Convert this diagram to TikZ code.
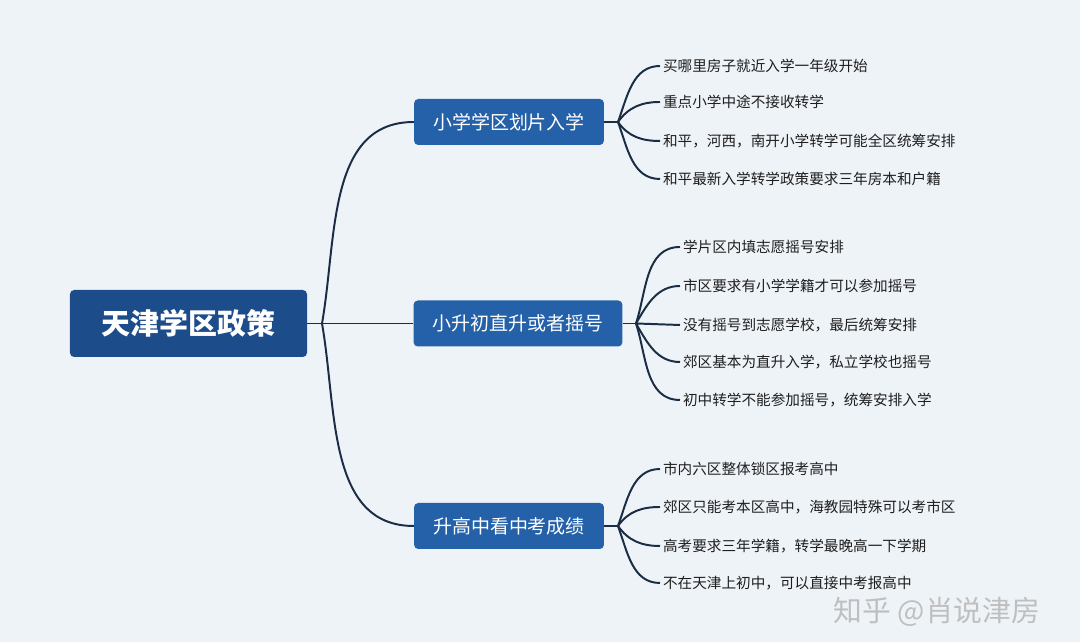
\documentclass[tikz,border=0pt]{standalone}
\usepackage{fontspec}
\setmainfont{Noto Sans CJK SC}
\usetikzlibrary{positioning}
\definecolor{MapBg}{HTML}{EEF3F8}
\definecolor{RootNavy}{HTML}{1D4C8B}
\definecolor{BoxBlue}{HTML}{2561A8}
\definecolor{LineNavy}{HTML}{1B2D44}
\definecolor{LeafText}{HTML}{1E1E1E}

\begin{document}
\begin{tikzpicture}[x=0.025cm, y=0.025cm,
	root/.style={rectangle, rounded corners=3pt, fill=RootNavy, text=white, font=\fontsize{20.6}{24}\selectfont\bfseries, minimum width=5.925cm, minimum height=1.675cm},
	sub/.style={rectangle, rounded corners=3pt, fill=BoxBlue, text=white, font=\fontsize{13.5}{16}\selectfont, inner xsep=0.475cm, minimum height=1.15cm},
	leaf/.style={anchor=west, inner xsep=2pt, text=LeafText, font=\fontsize{10.4}{12}\selectfont},
	link/.style={draw=LineNavy, line width=1.4pt}]
	\fill[MapBg] (0,0) rectangle (1080,642);
	\useasboundingbox (0,0) rectangle (1080,642);

	% centre and main branches
	\node[root] (root) at (188.5,318.5) {天津学区政策};
	\coordinate (j) at (322,318.5);
	\node[sub] (b1) at (509,520) {小学学区划片入学};
	\node[sub] (b2) at (518,318.5) {小升初直升或者摇号};
	\node[sub] (b3) at (509,116) {升高中看中考成绩};
	\coordinate (h1) at (618,520);
	\coordinate (h2) at (636,318.5);
	\coordinate (h3) at (618,116);

	% leaves
	\node[leaf] (l11) at (660,576) {买哪里房子就近入学一年级开始};
	\node[leaf] (l12) at (660,540) {重点小学中途不接收转学};
	\node[leaf] (l13) at (660,501) {和平，河西，南开小学转学可能全区统筹安排};
	\node[leaf] (l14) at (660,463) {和平最新入学转学政策要求三年房本和户籍};

	\node[leaf] (l21) at (680,395) {学片区内填志愿摇号安排};
	\node[leaf] (l22) at (680,356) {市区要求有小学学籍才可以参加摇号};
	\node[leaf] (l23) at (680,317) {没有摇号到志愿学校，最后统筹安排};
	\node[leaf] (l24) at (680,280) {郊区基本为直升入学，私立学校也摇号};
	\node[leaf] (l25) at (680,242) {初中转学不能参加摇号，统筹安排入学};

	\node[leaf] (l31) at (660,173) {市内六区整体锁区报考高中};
	\node[leaf] (l32) at (660,135) {郊区只能考本区高中，海教园特殊可以考市区};
	\node[leaf] (l33) at (660,96) {高考要求三年学籍，转学最晚高一下学期};
	\node[leaf] (l34) at (660,59) {不在天津上初中，可以直接中考报高中};

	\node[text=black!25, font=\fontsize{20.5}{24}\selectfont] (wm) at (937,30) {知乎 @肖说津房};

	% connectors
	\draw[link] (root.east) -- (j);
	\draw[link] (j) to[out=80,in=180] (b1.west);
	\draw[link] (j) -- (b2.west);
	\draw[link] (j) to[out=-80,in=180] (b3.west);

	\draw[link] (b1.east) -- (h1);
	\draw[link] (h1) to[out=70,in=180] (l11.west);
	\draw[link] (h1) to[out=55,in=180] (l12.west);
	\draw[link] (h1) to[out=-55,in=180] (l13.west);
	\draw[link] (h1) to[out=-70,in=180] (l14.west);

	\draw[link] (b2.east) -- (h2);
	\draw[link] (h2) to[out=72,in=180] (l21.west);
	\draw[link] (h2) to[out=60,in=180] (l22.west);
	\draw[link] (h2) -- (l23.west);
	\draw[link] (h2) to[out=-60,in=180] (l24.west);
	\draw[link] (h2) to[out=-72,in=180] (l25.west);

	\draw[link] (b3.east) -- (h3);
	\draw[link] (h3) to[out=70,in=180] (l31.west);
	\draw[link] (h3) to[out=55,in=180] (l32.west);
	\draw[link] (h3) to[out=-55,in=180] (l33.west);
	\draw[link] (h3) to[out=-70,in=180] (l34.west);
\end{tikzpicture}
\end{document}
